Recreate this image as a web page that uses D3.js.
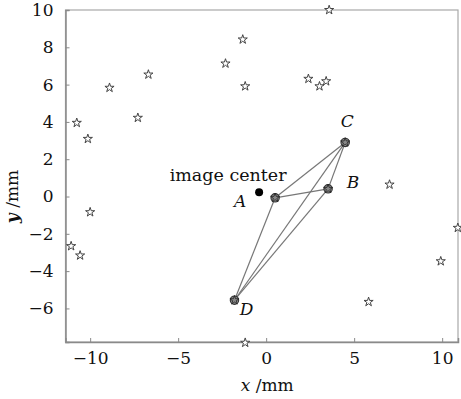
<!DOCTYPE html>
<html>
<head>
<meta charset="utf-8">
<script src="https://cdn.jsdelivr.net/npm/d3@7"></script>
<style>
  body { margin: 0; background: #fff; }
  text { font-family: 'DejaVu Serif', serif; fill: #111; }
</style>
</head>
<body>
<svg id="chart"></svg>
<script>
// star-marked sources (mm)
const starX = [-10.76, -10.13, -8.9, -7.29, -6.69, -2.31, 3.58, -1.33, -1.19, 2.4, 3.03, 3.41, 7.01, -10.0, -11.08, -10.57, 10.89, 9.92, 5.82, -1.19];
const starY = [3.95, 3.09, 5.83, 4.22, 6.54, 7.13, 10.0, 8.42, 5.91, 6.31, 5.91, 6.18, 0.64, -0.84, -2.66, -3.16, -1.68, -3.47, -5.65, -7.84];

// selected points forming the quadrilateral
const pointNames = ['A', 'B', 'C', 'D'];
const pointX = [0.51, 3.52, 4.49, -1.8];
const pointY = [-0.07, 0.41, 2.9, -5.56];

const centerX = -0.4;
const centerY = 0.23;
const centerLabel = 'image center';

const xTicks = [-10, -5, 0, 5, 10];
const yTicks = [-6, -4, -2, 0, 2, 4, 6, 8, 10];

const width = 461;
const height = 399;
const frame = { left: 65.5, right: 458, top: 10, bottom: 342 };
const axisColor = '#8a8a8a';

const svg = d3.select('#chart').attr('width', width).attr('height', height);

const x = d3.scaleLinear().domain([-11.4, 10.9]).range([frame.left, frame.right]);
const y = d3.scaleLinear().domain([-7.8, 10]).range([frame.bottom, frame.top]);

// frame
svg.append('rect')
  .attr('x', frame.left).attr('y', frame.top)
  .attr('width', frame.right - frame.left).attr('height', frame.bottom - frame.top)
  .attr('fill', 'none').attr('stroke', '#a8a8a8').attr('stroke-width', 1.2);

// axes with small inward ticks
const fmt = (d) => String(d).replace('-', '\u2212');
const xAxis = svg.append('g')
  .attr('transform', `translate(0,${frame.bottom})`)
  .call(d3.axisBottom(x).tickValues(xTicks).tickSize(-4).tickPadding(10).tickFormat(fmt));
const yAxis = svg.append('g')
  .attr('transform', `translate(${frame.left},0)`)
  .call(d3.axisLeft(y).tickValues(yTicks).tickSize(-4).tickPadding(12).tickFormat(fmt));

[xAxis, yAxis].forEach((g) => {
  g.select('.domain').attr('stroke', axisColor).attr('stroke-width', 1.5);
  g.selectAll('.tick line').attr('stroke', axisColor);
  g.selectAll('text').attr('font-family', 'DejaVu Serif').attr('font-size', 17).attr('fill', '#111');
});

// axis titles
const xTitle = svg.append('text')
  .attr('x', x(0) + 1).attr('y', 391)
  .attr('text-anchor', 'middle').attr('font-size', 17);
xTitle.append('tspan').attr('font-style', 'italic').text('x');
xTitle.append('tspan').text(' /mm');

const yTitle = svg.append('text')
  .attr('transform', `translate(18,${y(0)}) rotate(-90)`)
  .attr('text-anchor', 'middle').attr('font-size', 17);
yTitle.append('tspan').attr('font-style', 'italic').attr('font-weight', 'bold').text('y');
yTitle.append('tspan').text(' /mm');

// edges between all four points
const pts = pointNames.map((n, i) => ({ name: n, x: pointX[i], y: pointY[i] }));
const edges = [];
for (let i = 0; i < pts.length; i++)
  for (let j = i + 1; j < pts.length; j++) edges.push([pts[i], pts[j]]);

svg.append('g').selectAll('line').data(edges).join('line')
  .attr('x1', (d) => x(d[0].x)).attr('y1', (d) => y(d[0].y))
  .attr('x2', (d) => x(d[1].x)).attr('y2', (d) => y(d[1].y))
  .attr('stroke', '#777').attr('stroke-width', 1.2);

// star markers
const star = d3.symbol().type(d3.symbolStar).size(26);
const stars = starX.map((v, i) => ({ x: v, y: starY[i] }));
svg.append('g').selectAll('path').data(stars).join('path')
  .attr('d', star)
  .attr('transform', (d) => `translate(${x(d.x)},${y(d.y)})`)
  .attr('fill', '#fff').attr('stroke', '#444').attr('stroke-width', 1);

// highlighted points
const ptG = svg.append('g').selectAll('g').data(pts).join('g')
  .attr('transform', (d) => `translate(${x(d.x)},${y(d.y)})`);
ptG.append('circle').attr('r', 4.2).attr('fill', '#888').attr('stroke', '#333').attr('stroke-width', 1.1);
ptG.append('path').attr('d', star).attr('fill', 'none').attr('stroke', '#222').attr('stroke-width', 0.8);

// point labels
const labelOffset = { A: [-35, 9], B: [25, -1], C: [2, -15], D: [12, 15] };
svg.append('g').selectAll('text').data(pts).join('text')
  .attr('x', (d) => x(d.x) + labelOffset[d.name][0])
  .attr('y', (d) => y(d.y) + labelOffset[d.name][1])
  .attr('text-anchor', 'middle')
  .attr('font-style', 'italic').attr('font-size', 17)
  .text((d) => d.name);

// image center
svg.append('circle')
  .attr('cx', x(centerX)).attr('cy', y(centerY)).attr('r', 4)
  .attr('fill', '#000');
svg.append('text')
  .attr('x', x(centerX) - 31).attr('y', y(centerY) - 11)
  .attr('text-anchor', 'middle').attr('font-size', 17.5)
  .text(centerLabel);
</script>
</body>
</html>
